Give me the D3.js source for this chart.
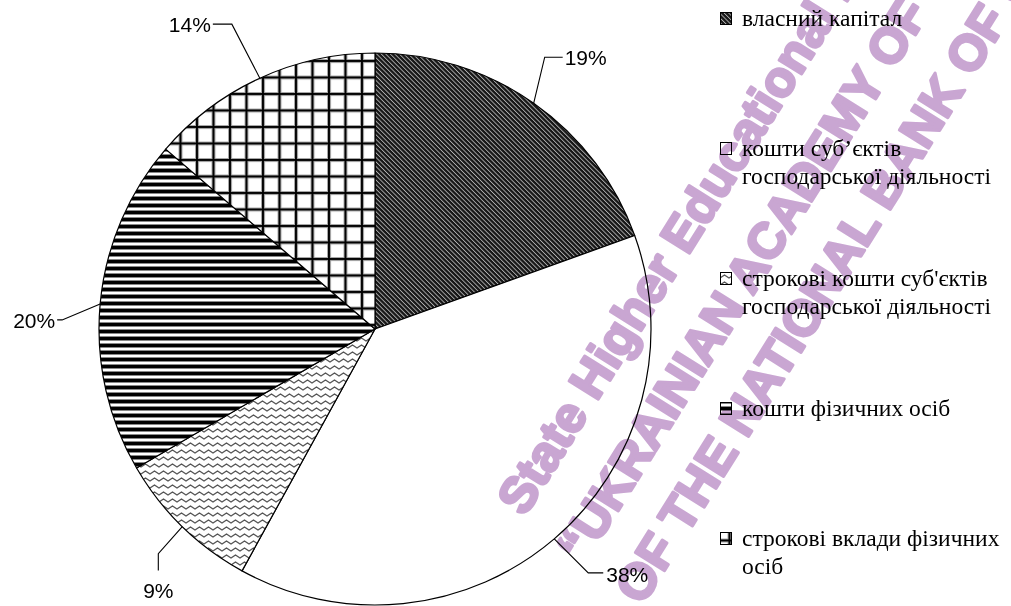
<!DOCTYPE html>
<html><head><meta charset="utf-8">
<script src="https://cdn.jsdelivr.net/npm/d3@7"></script>
<style>html,body{margin:0;padding:0;background:#fff;overflow:hidden}</style>
</head><body>
<svg id="c" width="1011" height="606"></svg>
<script>
// ---------- data ----------
const categories = [
  "власний капітал",
  "кошти суб’єктів господарської діяльності",
  "строкові кошти суб'єктів господарської діяльності",
  "кошти фізичних осіб",
  "строкові вклади фізичних осіб"
];
const values = [19.5, 38.5, 8.6, 19.7, 13.7];
const percentLabels = ["19%", "38%", "9%", "20%", "14%"];
const legendLines = [
  ["власний капітал"],
  ["кошти суб’єктів", "господарської діяльності"],
  ["строкові кошти суб'єктів", "господарської діяльності"],
  ["кошти фізичних осіб"],
  ["строкові вклади фізичних", "осіб"]
];
const watermarkLines = [
  "State Higher Educational Institution",
  "“UKRAINIAN ACADEMY OF BANKING",
  "OF THE NATIONAL BANK OF UKRAINE”"
];

// ---------- layout ----------
const W = 1011, H = 606, cx = 375, cy = 329, R = 276;
const svg = d3.select("#c");
svg.append("rect").attr("width", W).attr("height", H).attr("fill", "#fff");
const defs = svg.append("defs");

// diagonal dark hatch
const dp = 3.2;
const pDiag = defs.append("pattern").attr("id", "pDiag")
  .attr("patternUnits", "userSpaceOnUse").attr("width", dp).attr("height", dp)
  .attr("patternTransform", "rotate(-45)");
pDiag.append("rect").attr("width", dp).attr("height", dp).attr("fill", "#161616");
pDiag.append("rect").attr("x", 0).attr("width", 0.9).attr("height", dp).attr("fill", "#b0b0b0");

// wavy
const pWave = defs.append("pattern").attr("id", "pWave")
  .attr("patternUnits", "userSpaceOnUse").attr("width", 9).attr("height", 7);
pWave.append("rect").attr("width", 9).attr("height", 7).attr("fill", "#fff");
pWave.append("path").attr("d", "M-2.25,3.5 L0,5 L2.25,3.5 L4.5,2 L6.75,3.5 L9,5 L11.25,3.5")
  .attr("fill", "none").attr("stroke", "#555").attr("stroke-width", 1.4);

// horizontal lines
const pHor = defs.append("pattern").attr("id", "pHor")
  .attr("patternUnits", "userSpaceOnUse").attr("width", 7).attr("height", 7);
pHor.append("rect").attr("width", 7).attr("height", 7).attr("fill", "#fff");
pHor.append("rect").attr("y", 0).attr("width", 7).attr("height", 1).attr("fill", "#888");
pHor.append("rect").attr("y", 1).attr("width", 7).attr("height", 3).attr("fill", "#000");
pHor.append("rect").attr("y", 4).attr("width", 7).attr("height", 1).attr("fill", "#888");

// grid
const gs = 16.5;
const pGrid = defs.append("pattern").attr("id", "pGrid")
  .attr("patternUnits", "userSpaceOnUse").attr("width", gs).attr("height", gs)
  .attr("x", 1.5).attr("y", 10.5);
pGrid.append("rect").attr("width", gs).attr("height", gs).attr("fill", "#fff");
pGrid.append("rect").attr("x", 0).attr("width", 4).attr("height", gs).attr("fill", "#aaa");
pGrid.append("rect").attr("y", 0).attr("width", gs).attr("height", 4).attr("fill", "#aaa");
pGrid.append("rect").attr("x", 1).attr("width", 2).attr("height", gs).attr("fill", "#000");
pGrid.append("rect").attr("y", 1).attr("width", gs).attr("height", 2).attr("fill", "#000");

const fills = ["url(#pDiag)", "#ffffff", "url(#pWave)", "url(#pHor)", "url(#pGrid)"];

// ---------- pie ----------
const pieData = d3.pie().sort(null).value(d => d)(values);
const arcGen = d3.arc().innerRadius(0).outerRadius(R);
const g = svg.append("g").attr("transform", `translate(${cx},${cy})`);
g.selectAll("path.slice").data(pieData).join("path").attr("class", "slice")
  .attr("d", arcGen)
  .attr("fill", (d, i) => fills[i])
  .attr("stroke", "#000").attr("stroke-width", 1.2).attr("stroke-linejoin", "round");

// leader lines + labels (offsets relative to the slice's outer mid point)
const labelLayout = [
  { elbow: [11, -46], end: [29, -46], anchor: "start", tdx: 2, tdy: 8 },
  { elbow: [34, 34], end: [49, 34], anchor: "start", tdx: 3, tdy: 9 },
  { elbow: [-24, 27], end: [-24, 44], anchor: "middle", tdx: 0, tdy: 27 },
  { elbow: [-38, 16], end: [-43, 16], anchor: "end", tdx: -2, tdy: 8 },
  { elbow: [-28, -54], end: [-47, -54], anchor: "end", tdx: -2, tdy: 8 }
];
pieData.forEach((d, i) => {
  const a = (d.startAngle + d.endAngle) / 2;
  const p = [R * Math.sin(a), -R * Math.cos(a)];
  const L = labelLayout[i];
  const e = [p[0] + L.elbow[0], p[1] + L.elbow[1]];
  const t = [p[0] + L.end[0], p[1] + L.end[1]];
  g.append("path").attr("d", d3.line()([p, e, t]))
    .attr("fill", "none").attr("stroke", "#000").attr("stroke-width", 1.1);
  g.append("text").attr("x", t[0] + L.tdx).attr("y", t[1] + L.tdy)
    .attr("text-anchor", L.anchor)
    .attr("font-family", "Liberation Sans, Arial, sans-serif").attr("font-size", 21)
    .attr("fill", "#000").text(percentLabels[i]);
});

// ---------- legend ----------
const legY = d3.scalePoint().domain(categories).range([26, 546]);
const leg = svg.append("g");
categories.forEach((c, i) => {
  const y = legY(c);
  leg.append("rect").attr("x", 720.5).attr("y", y - 13.5).attr("width", 11).attr("height", 12)
    .attr("fill", fills[i]).attr("stroke", "#000").attr("stroke-width", 1);
  const t = leg.append("text").attr("x", 742).attr("y", y)
    .attr("font-family", "Liberation Serif, Times New Roman, serif").attr("font-size", 23.5)
    .attr("fill", "#000");
  legendLines[i].forEach((ln, j) => {
    t.append("tspan").attr("x", 742).attr("dy", j === 0 ? 0 : 28).text(ln);
  });
});

// ---------- watermark ----------
const wm = svg.append("g").attr("transform", "rotate(-58)")
  .style("mix-blend-mode", "multiply");
const wmPos = [[-161, 719], [-170, 795], [-174, 866]];
watermarkLines.forEach((s, i) => {
  wm.append("text").attr("x", wmPos[i][0]).attr("y", wmPos[i][1])
    .attr("font-family", "Liberation Sans, Arial, sans-serif").attr("font-weight", "bold")
    .attr("font-size", 50).attr("fill", "#c9a6d2")
    .attr("stroke", "#c9a6d2").attr("stroke-width", 3).attr("stroke-linejoin", "round")
    .text(s);
});
</script>
</body></html>
